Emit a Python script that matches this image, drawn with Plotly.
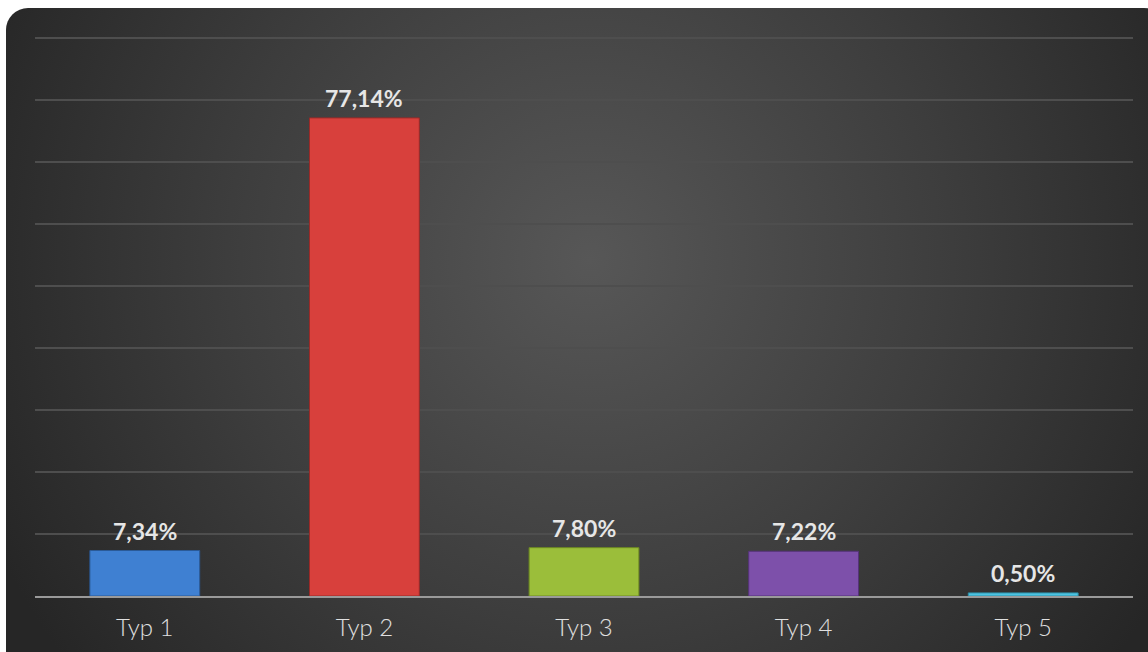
import base64
import plotly.graph_objects as go

categories = ["Typ 1", "Typ 2", "Typ 3", "Typ 4", "Typ 5"]
values = [7.34, 77.14, 7.80, 7.22, 0.50]
bar_colors = ["#3F80D2", "#D8403C", "#9BBE3A", "#7D50AA", "#4CC4E2"]
line_colors = ["#2A5A98", "#9A2A28", "#6E8A22", "#55337A", "#2E90A8"]
grid_vals = [10, 20, 30, 40, 50, 60, 70, 80, 90]

labels = [f"{v:.2f}".replace(".", ",") + "%" for v in values]

W, H = 1148, 652
L, R, T, B = 35, 15, 32, 56
pw, ph = W - L - R, H - T - B

svg = f'''<svg xmlns="http://www.w3.org/2000/svg" width="{W}" height="{H}" viewBox="0 0 {W} {H}">
<defs><radialGradient id="g" cx="{590}" cy="{260}" r="{660}" gradientUnits="userSpaceOnUse">
<stop offset="0" stop-color="#575757"/><stop offset="0.55" stop-color="#3d3d3d"/><stop offset="1" stop-color="#262626"/>
</radialGradient></defs>
<rect x="0" y="0" width="{W}" height="{H}" fill="#ffffff"/>
<rect x="6" y="8" width="1160" height="680" rx="22" ry="22" fill="url(#g)"/>
</svg>'''
src = "data:image/svg+xml;base64," + base64.b64encode(svg.encode()).decode()

fig = go.Figure()
fig.add_trace(go.Bar(
    x=categories, y=values,
    marker=dict(color=bar_colors, line=dict(color=line_colors, width=1)),
    width=0.5,
    hoverinfo="skip",
))

for c, v, t in zip(categories, values, labels):
    fig.add_annotation(x=c, y=v, text=t, showarrow=False, yanchor="bottom", yshift=4,
                       font=dict(family="Lato", size=23, color="#e6e6e6", weight="bold"))

fig.update_layout(
    width=W, height=H,
    margin=dict(l=L, r=R, t=T, b=B),
    paper_bgcolor="#ffffff",
    plot_bgcolor="rgba(0,0,0,0)",
    showlegend=False,
    images=[dict(source=src, xref="paper", yref="paper",
                 x=-L / pw, y=1 + T / ph, sizex=W / pw, sizey=H / ph,
                 xanchor="left", yanchor="top", sizing="stretch", layer="below")],
    xaxis=dict(showgrid=False, showline=True, linecolor="#9a9a9a", linewidth=2,
               ticks="outside", ticklen=9, tickcolor="rgba(0,0,0,0)",
               tickfont=dict(family="Lato", size=24, color="#e0e0e0", weight=300),
               fixedrange=True),
    yaxis=dict(range=[0, 91], tickvals=grid_vals,
               showgrid=True, gridcolor="#4e4e4e", gridwidth=1.5,
               showticklabels=False, zeroline=False, showline=False, fixedrange=True),
)

fig.write_html("out.html")
